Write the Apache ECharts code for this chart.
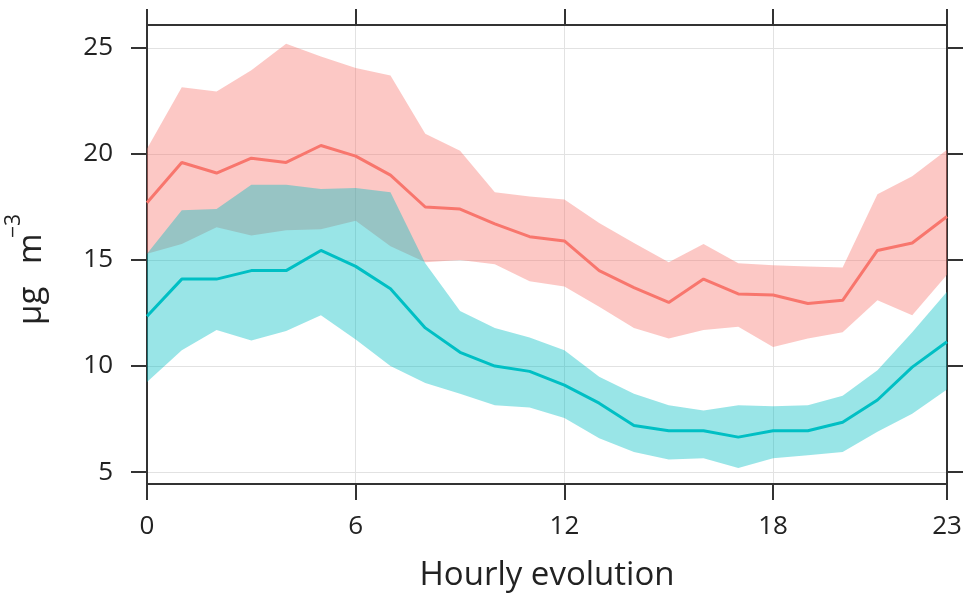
<!DOCTYPE html>
<html>
<head>
<meta charset="utf-8">
<script src="https://cdn.jsdelivr.net/npm/echarts@6/dist/echarts.min.js"></script>
<style>
  html, body { margin: 0; padding: 0; background: #fff; }
  #chart { width: 968px; height: 595px; }
</style>
</head>
<body>
<div id="chart"></div>
<script>
// hours of the day
const hours = [0,1,2,3,4,5,6,7,8,9,10,11,12,13,14,15,16,17,18,19,20,21,22,23];

// red group: mean and interval
const redMean = [17.7,19.6,19.1,19.8,19.6,20.4,19.9,19.0,17.5,17.4,16.7,16.1,15.9,14.5,13.7,13.0,14.1,13.4,13.35,12.95,13.1,15.45,15.8,17.05];
const redLow  = [15.3,15.75,16.55,16.15,16.4,16.45,16.85,15.65,14.9,15.0,14.8,14.0,13.75,12.8,11.8,11.3,11.7,11.85,10.9,11.3,11.6,13.1,12.4,14.3];
const redHigh = [20.25,23.15,22.95,23.95,25.2,24.6,24.05,23.7,20.95,20.15,18.2,18.0,17.85,16.75,15.8,14.9,15.75,14.85,14.75,14.7,14.65,18.1,18.95,20.2];

// cyan group: mean and interval
const cyanMean = [12.35,14.1,14.1,14.5,14.5,15.45,14.7,13.65,11.8,10.65,10.0,9.75,9.1,8.25,7.2,6.95,6.95,6.65,6.95,6.95,7.35,8.4,9.95,11.15];
const cyanLow  = [9.25,10.75,11.7,11.2,11.65,12.4,11.25,10.0,9.2,8.7,8.15,8.05,7.55,6.6,5.95,5.6,5.65,5.2,5.65,5.8,5.95,6.9,7.75,8.9];
const cyanHigh = [15.3,17.35,17.4,18.55,18.55,18.35,18.4,18.2,14.85,12.6,11.8,11.35,10.75,9.5,8.7,8.15,7.9,8.15,8.1,8.15,8.6,9.8,11.6,13.5];

// axis ticks
const xTicks = [0,6,12,18,23];
const yTicks = [5,10,15,20,25];

const RED = '#F8766D';
const CYAN = '#00BFC4';
const FONT = 'Open Sans';
const INK = '#222';

const pts = arr => hours.map((h, i) => [h, arr[i]]);

const frame = { show: true, onZero: false, lineStyle: { color: '#333', width: 2 } };
const tick = vals => ({ show: true, inside: false, length: 16, customValues: vals, lineStyle: { color: '#333', width: 2 } });
const grid = { show: true, lineStyle: { color: '#e2e2e2', width: 1 } };

// shaded interval: polygon along the upper values and back along the lower ones
function band(lo, hi, color) {
  return {
    type: 'custom', silent: true, z: 1,
    data: pts(lo),
    renderItem: function (params, api) {
      if (params.dataIndex !== 0) return null;
      const top = hours.map((h, i) => api.coord([h, hi[i]]));
      const bot = hours.map((h, i) => api.coord([h, lo[i]])).reverse();
      return { type: 'polygon', shape: { points: top.concat(bot) }, style: { fill: color } };
    }
  };
}

let myChart = echarts.init(document.getElementById('chart'), null, { renderer: 'canvas' });
const option = {
  animation: false,
  backgroundColor: '#fff',
  grid: { left: 147, right: 21, top: 25, bottom: 111, containLabel: false, outerBoundsMode: 'none' },
  // y title, rotated, with a raised exponent
  graphic: [{
    type: 'group', x: 32, y: 325, rotation: Math.PI / 2,
    children: [
      { type: 'text', x: 0, y: 0, style: { text: 'µg', font: '33px "Open Sans"', fill: INK, align: 'left', verticalAlign: 'middle' } },
      { type: 'text', x: 61, y: 0, style: { text: 'm', font: '33px "Open Sans"', fill: INK, align: 'left', verticalAlign: 'middle' } },
      { type: 'text', x: 87, y: -18, style: { text: '−3', font: '21px "Open Sans"', fill: INK, align: 'left', verticalAlign: 'middle' } }
    ]
  }],
  xAxis: [
    {
      type: 'value', min: 0, max: 23, position: 'bottom',
      axisLine: frame, axisTick: tick(xTicks), splitLine: grid,
      axisLabel: { customValues: xTicks, margin: 30, fontFamily: FONT, fontSize: 26, color: INK },
      name: 'Hourly evolution', nameLocation: 'middle', nameGap: 75,
      nameTextStyle: { fontFamily: FONT, fontSize: 33, color: INK }
    },
    {
      type: 'value', min: 0, max: 23, position: 'top',
      axisLine: frame, axisTick: tick(xTicks), splitLine: { show: false },
      axisLabel: { show: false, customValues: xTicks }
    }
  ],
  yAxis: [
    {
      type: 'value', min: 4.44, max: 26.08, position: 'left',
      axisLine: frame, axisTick: tick(yTicks), splitLine: grid,
      axisLabel: { customValues: yTicks, margin: 34, fontFamily: FONT, fontSize: 26, color: INK }
    },
    {
      type: 'value', min: 4.44, max: 26.08, position: 'right',
      axisLine: frame, axisTick: tick(yTicks), splitLine: { show: false },
      axisLabel: { show: false, customValues: yTicks }
    }
  ],
  series: [
    band(redLow, redHigh, 'rgba(248,118,109,0.4)'),
    band(cyanLow, cyanHigh, 'rgba(0,191,196,0.4)'),
    { type: 'line', name: 'red', data: pts(redMean), symbol: 'none', lineStyle: { color: RED, width: 3 }, z: 3 },
    { type: 'line', name: 'cyan', data: pts(cyanMean), symbol: 'none', lineStyle: { color: CYAN, width: 3 }, z: 3 }
  ]
};
option && myChart.setOption(option);
</script>
</body>
</html>
